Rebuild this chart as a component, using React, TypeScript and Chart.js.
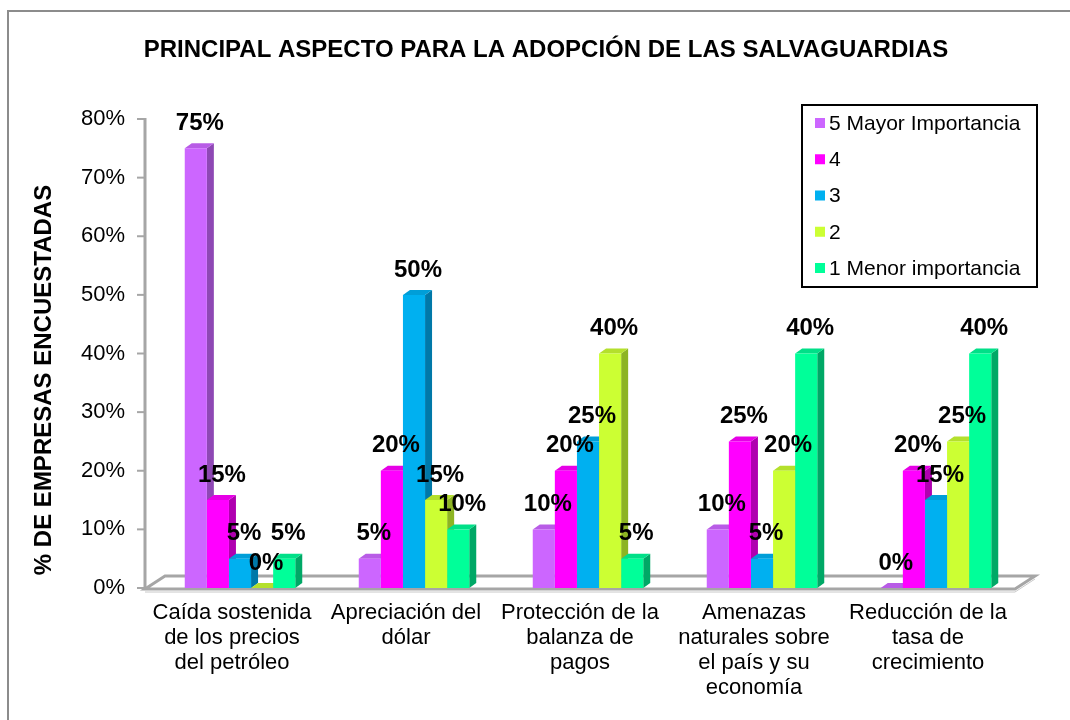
import React, { useEffect, useRef } from "react";
import { Chart, registerables } from "chart.js";

Chart.register(...registerables);

const chartTitle = "PRINCIPAL ASPECTO PARA LA ADOPCIÓN DE LAS SALVAGUARDIAS";
const yAxisTitle = "% DE EMPRESAS ENCUESTADAS";

const categories: string[][] = [
  ["Caída sostenida", "de los precios", "del petróleo"],
  ["Apreciación del", "dólar"],
  ["Protección de la", "balanza de", "pagos"],
  ["Amenazas", "naturales sobre", "el país y su", "economía"],
  ["Reducción de la", "tasa de", "crecimiento"],
];

const seriesNames = ["5 Mayor Importancia", "4", "3", "2", "1 Menor importancia"];

const mayorImportancia = [75, 5, 10, 10, 0];
const importancia4 = [15, 20, 20, 25, 20];
const importancia3 = [5, 50, 25, 5, 15];
const importancia2 = [0, 15, 40, 20, 25];
const menorImportancia = [5, 10, 5, 40, 40];

const yTickValues = [0, 10, 20, 30, 40, 50, 60, 70, 80];

const frontColors = ["#CC66FF", "#FF00FF", "#00B0F0", "#CCFF33", "#00FF99"];
const sideColors = ["#8E48B4", "#B000B0", "#0078A8", "#8DB423", "#00A866"];
const topColors = ["#B85CE6", "#E600E6", "#009ED8", "#B4E02C", "#00E088"];

const FONT = "'Liberation Sans', Arial, sans-serif";
const DX = 7;
const DY = 5;

function poly(ctx: CanvasRenderingContext2D, pts: number[][], fill: string) {
  ctx.beginPath();
  ctx.moveTo(pts[0][0], pts[0][1]);
  for (let i = 1; i < pts.length; i++) ctx.lineTo(pts[i][0], pts[i][1]);
  ctx.closePath();
  ctx.fillStyle = fill;
  ctx.fill();
}

const decorPlugin = {
  id: "decor",
  beforeDatasetsDraw(chart: any) {
    const ctx: CanvasRenderingContext2D = chart.ctx;
    const yScale = chart.scales.y;
    const area = chart.chartArea;
    const axisX = area.left - 8;
    const y0 = yScale.getPixelForValue(0) + 1;
    ctx.save();
    // floor
    ctx.strokeStyle = "#A6A6A6";
    ctx.lineWidth = 3;
    ctx.beginPath();
    ctx.moveTo(axisX, y0);
    ctx.lineTo(area.right - 8, y0);
    ctx.lineTo(area.right + 12, y0 - 13);
    ctx.lineTo(axisX + 20, y0 - 13);
    ctx.closePath();
    ctx.stroke();
    ctx.lineWidth = 1;
    ctx.strokeStyle = "#C8C8C8";
    ctx.beginPath();
    ctx.moveTo(axisX, y0 + 3);
    ctx.lineTo(area.right - 8, y0 + 3);
    ctx.lineTo(area.right + 12, y0 - 10);
    ctx.stroke();
    // y axis line and tick marks
    ctx.strokeStyle = "#A6A6A6";
    ctx.lineWidth = 3;
    ctx.beginPath();
    ctx.moveTo(axisX, yScale.getPixelForValue(80) - 1);
    ctx.lineTo(axisX, y0 + 1);
    ctx.stroke();
    ctx.lineWidth = 2;
    yTickValues.forEach((v) => {
      const py = yScale.getPixelForValue(v);
      ctx.beginPath();
      ctx.moveTo(axisX - 8, py);
      ctx.lineTo(axisX, py);
      ctx.stroke();
    });
    // 3D side and top faces
    chart.data.datasets.forEach((ds: any, i: number) => {
      const meta = chart.getDatasetMeta(i);
      meta.data.forEach((el: any) => {
        const p = el.getProps(["x", "y", "base", "width"], true);
        const x0 = p.x - p.width / 2;
        const x1 = p.x + p.width / 2;
        poly(ctx, [[x1, p.y], [x1 + DX, p.y - DY], [x1 + DX, p.base - DY], [x1, p.base]], sideColors[i]);
        poly(ctx, [[x0, p.y], [x1, p.y], [x1 + DX, p.y - DY], [x0 + DX, p.y - DY]], topColors[i]);
      });
    });
    ctx.restore();
  },
  afterDatasetsDraw(chart: any) {
    const ctx: CanvasRenderingContext2D = chart.ctx;
    ctx.save();
    // data labels
    ctx.fillStyle = "#000";
    ctx.font = `bold 24px ${FONT}`;
    ctx.textAlign = "center";
    ctx.textBaseline = "middle";
    chart.data.datasets.forEach((ds: any, i: number) => {
      const meta = chart.getDatasetMeta(i);
      meta.data.forEach((el: any, j: number) => {
        const p = el.getProps(["x", "y"], true);
        ctx.fillText(`${ds.data[j]}%`, p.x + 4, p.y - 25);
      });
    });
    // title
    ctx.font = `bold 24px ${FONT}`;
    ctx.fillText(chartTitle, 546, 50);
    // y axis title
    ctx.save();
    ctx.translate(44, 380);
    ctx.rotate(-Math.PI / 2);
    ctx.fillText(yAxisTitle, 0, 0);
    ctx.restore();
    // legend
    ctx.fillStyle = "#FFFFFF";
    ctx.fillRect(802, 105, 235, 182);
    ctx.strokeStyle = "#000";
    ctx.lineWidth = 2;
    ctx.strokeRect(802, 105, 235, 182);
    ctx.font = `21px ${FONT}`;
    ctx.textAlign = "left";
    seriesNames.forEach((name, i) => {
      const ry = 123 + i * 36.25;
      ctx.fillStyle = frontColors[i];
      ctx.fillRect(815, ry - 5, 10, 10);
      ctx.fillStyle = "#000";
      ctx.fillText(name, 829, ry + 1);
    });
    // outer border
    ctx.strokeStyle = "#8C8C8C";
    ctx.lineWidth = 2;
    ctx.beginPath();
    ctx.moveTo(8, 720);
    ctx.lineTo(8, 11);
    ctx.lineTo(1070, 11);
    ctx.stroke();
    ctx.restore();
  },
};

export default function App() {
  const ref = useRef<HTMLCanvasElement | null>(null);
  useEffect(() => {
    if (!ref.current) return;
    const seriesValues = [mayorImportancia, importancia4, importancia3, importancia2, menorImportancia];
    const chart = new Chart(ref.current, {
      type: "bar",
      data: {
        labels: categories,
        datasets: seriesNames.map((name, i) => ({
          label: name,
          data: seriesValues[i],
          backgroundColor: frontColors[i],
          borderWidth: 0,
          categoryPercentage: 0.635,
          barPercentage: 1.0,
        })),
      },
      options: {
        responsive: false,
        animation: false,
        events: [],
        layout: { padding: { left: 0, top: 119, right: 47, bottom: 0 } },
        plugins: {
          legend: { display: false },
          title: { display: false },
          tooltip: { enabled: false },
        },
        scales: {
          x: {
            grid: { display: false, drawTicks: false },
            border: { display: false },
            ticks: {
              color: "#000",
              font: { family: FONT, size: 22, lineHeight: 1.14 },
              padding: 12,
              labelOffset: -8,
              maxRotation: 0,
              autoSkip: false,
            },
            afterFit: (s: any) => {
              s.height = 132;
            },
          },
          y: {
            min: 0,
            max: 80,
            grid: { display: false, drawTicks: false },
            border: { display: false },
            ticks: {
              stepSize: 10,
              color: "#000",
              font: { family: FONT, size: 22 },
              padding: 28,
              callback: (v: any) => `${v}%`,
            },
            afterFit: (s: any) => {
              s.width = 153;
            },
          },
        },
      },
      plugins: [decorPlugin],
    });
    return () => chart.destroy();
  }, []);
  return (
    <div style={{ position: "absolute", left: 0, top: 0, width: 1070, height: 720, background: "#fff" }}>
      <canvas ref={ref} width={1070} height={720} style={{ display: "block" }} />
    </div>
  );
}
